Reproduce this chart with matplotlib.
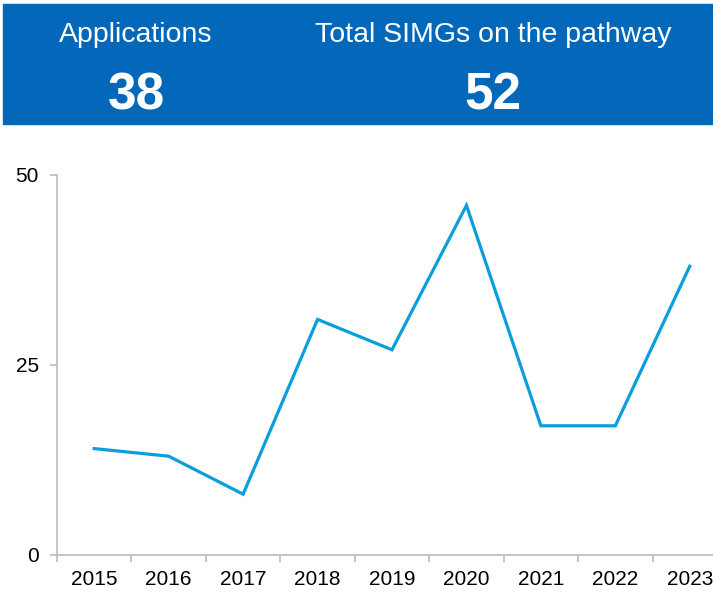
import numpy as np
import matplotlib.pyplot as plt
from matplotlib.patches import Rectangle

plt.rcParams['font.family'] = ['Liberation Sans', 'DejaVu Sans']

years = ['2015', '2016', '2017', '2018', '2019', '2020', '2021', '2022', '2023']
applications = [14, 13, 8, 31, 27, 46, 17, 17, 38]

header_labels = ['Applications', 'Total SIMGs on the pathway']
header_values = ['38', '52']

W, H = 713, 593
fig = plt.figure(figsize=(W / 100, H / 100), dpi=100)

# blue banner across the top
fig.patches.append(Rectangle((3 / W, 1 - 124 / H), 1, 120 / H,
                             transform=fig.transFigure, color='#0368BA', zorder=0))
for cx, lab, val in zip([136, 493], header_labels, header_values):
    fig.text(cx / W, 1 - 35 / H, lab, color='white', fontsize=20.5,
             ha='center', va='center')
    fig.text(cx / W, 1 - 96 / H, val, color='white', fontsize=37,
             fontweight='bold', ha='center', va='center')

ax = fig.add_axes([57 / W, 1 - 555 / H, 670 / W, 380 / H])
x = np.arange(len(years))
ax.plot(x, applications, color='#0A9EDC', linewidth=2.3, solid_joinstyle='miter')

ax.set_xlim(-0.5, len(years) - 0.5)
ax.set_ylim(0, 50)
ax.set_yticks([0, 25, 50])
ax.set_xticks(x)
ax.set_xticklabels(years)
ax.set_xticks(np.arange(-0.5, len(years)), minor=True)

for s in ['top', 'right']:
    ax.spines[s].set_visible(False)
for s in ['left', 'bottom']:
    ax.spines[s].set_color('#BFBFBF')
    ax.spines[s].set_linewidth(1.3)

ax.tick_params(axis='x', which='major', length=0, labelsize=15, pad=11)
ax.tick_params(axis='x', which='minor', length=5, color='#BFBFBF', width=1.3)
ax.tick_params(axis='y', length=5, color='#BFBFBF', width=1.3, labelsize=15, pad=8)

fig.savefig('out.png', dpi=100)
